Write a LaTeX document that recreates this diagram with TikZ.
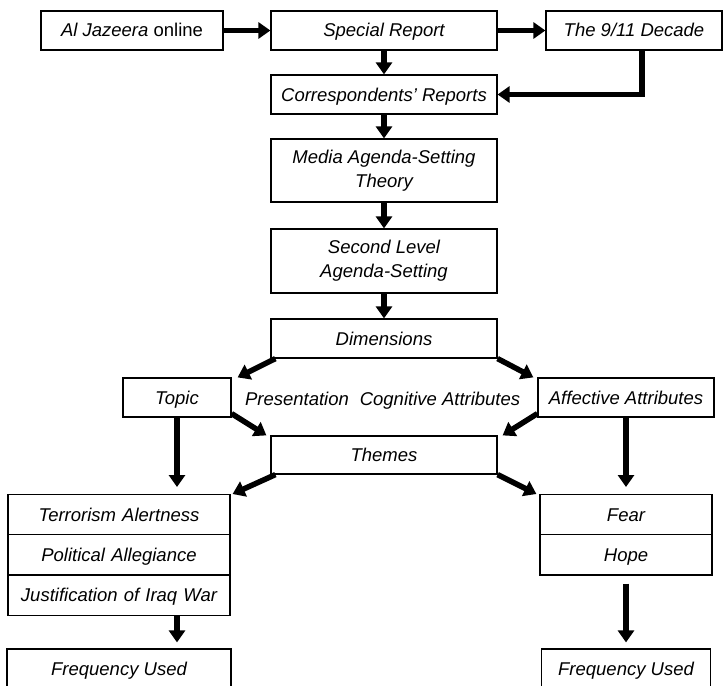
\documentclass[tikz,border=0pt]{standalone}
\usepackage{fontspec}
\setmainfont{Liberation Sans}
\usetikzlibrary{shapes,shapes.multipart,arrows.meta,calc}

\newcommand{\cellstrut}{\rule[-13pt]{0pt}{39pt}}

\begin{document}
\begin{tikzpicture}[x=1pt,y=-1pt]
				\tikzstyle{box}=[draw, line width=1.2pt, inner sep=0pt, minimum height=39pt, font=\fontsize{18.5}{24}\selectfont\itshape, align=center]
				\tikzstyle{sbox}=[box, text height=14pt, text depth=1pt]
				\tikzstyle{stack}=[box, rectangle split, rectangle split parts=3, rectangle split ignore empty parts, inner ysep=0pt, minimum height=0pt]
				\tikzstyle{arr}=[line width=5.5pt, -{Triangle[length=12pt,width=16pt]}]
				\tikzstyle{lbl}=[font=\fontsize{18.5}{24}\selectfont\itshape, inner sep=0pt, text height=14pt, text depth=1pt]
				\useasboundingbox (0,0) rectangle (725,685);
				% top row
				\node[sbox, minimum width=182pt] (aj) at (132,30.5) {Al Jazeera {\upshape online}};
				\node[sbox, minimum width=226pt] (sr) at (384,30.5) {Special Report};
				\node[sbox, minimum width=176pt] (dec) at (634,30.5) {The 9/11 Decade};
				% middle column
				\node[sbox, minimum width=226pt] (cr) at (384,94.5) {Correspondents' Reports};
				\node[box, minimum width=226pt, minimum height=63pt] (media) at (384,170.5) {Media Agenda-Setting\\Theory};
				\node[box, minimum width=226pt, minimum height=64pt] (sl) at (384,261) {Second Level\\Agenda-Setting};
				\node[sbox, minimum width=226pt] (dim) at (384,338.5) {Dimensions};
				\node[sbox, minimum width=108pt] (topic) at (177,397.5) {Topic};
				\node[lbl] (pres) at (297,399) {Presentation};
				\node[lbl] (cog) at (440,399) {Cognitive Attributes};
				\node[sbox, minimum width=176pt] (aff) at (626,397.5) {Affective Attributes};
				\node[sbox, minimum width=226pt, minimum height=38pt] (themes) at (384,455) {Themes};
				% stacks
				\node[stack, text width=222pt, anchor=north] (lstack) at (119,494) {\cellstrut Terrorism Alertness \nodepart{two}\cellstrut Political Allegiance \nodepart{three}\cellstrut Justification of Iraq War};
				\node[stack, text width=172pt, anchor=north] (rstack) at (626,494) {\cellstrut Fear \nodepart{two}\cellstrut Hope};
				\node[sbox, minimum width=224pt, minimum height=40pt] (lfreq) at (119,669) {Frequency Used};
				\node[sbox, minimum width=169pt, minimum height=40pt] (rfreq) at (626,669) {Frequency Used};
				% arrows
				\draw[arr] (aj) -- (sr);
				\draw[arr] (sr) -- (dec);
				\draw[arr] (sr) -- (cr);
				\draw[arr] ([xshift=8pt]dec.south) |- (cr);
				\draw[arr] (cr) -- (media);
				\draw[arr] (media) -- (sl);
				\draw[arr] (sl) -- (dim);
				\draw[arr] ([xshift=5pt]dim.south west) -- ([xshift=6pt]topic.north east);
				\draw[arr] (dim.south east) -- ([xshift=-4pt]aff.north west);
				\draw[arr] ([yshift=4pt]topic.south east) -- ([xshift=-4pt]themes.north west);
				\draw[arr] ([yshift=4pt]aff.south west) -- ([xshift=5pt]themes.north east);
				\draw[arr, shorten >=7pt] (topic.south) -- (topic.south |- lstack.north);
				\draw[arr, shorten >=7pt] (aff.south) -- (aff.south |- rstack.north);
				\draw[arr] ([xshift=5pt]themes.south west) -- ([xshift=2pt]lstack.north east);
				\draw[arr] (themes.south east) -- ([xshift=-3pt]rstack.north west);
				\draw[arr, shorten >=6pt] (lstack.south -| topic) -- (lfreq.north -| topic);
				\draw[arr, shorten <=8pt, shorten >=6pt] (rstack.south) -- (rfreq.north);
			\end{tikzpicture}
\end{document}
